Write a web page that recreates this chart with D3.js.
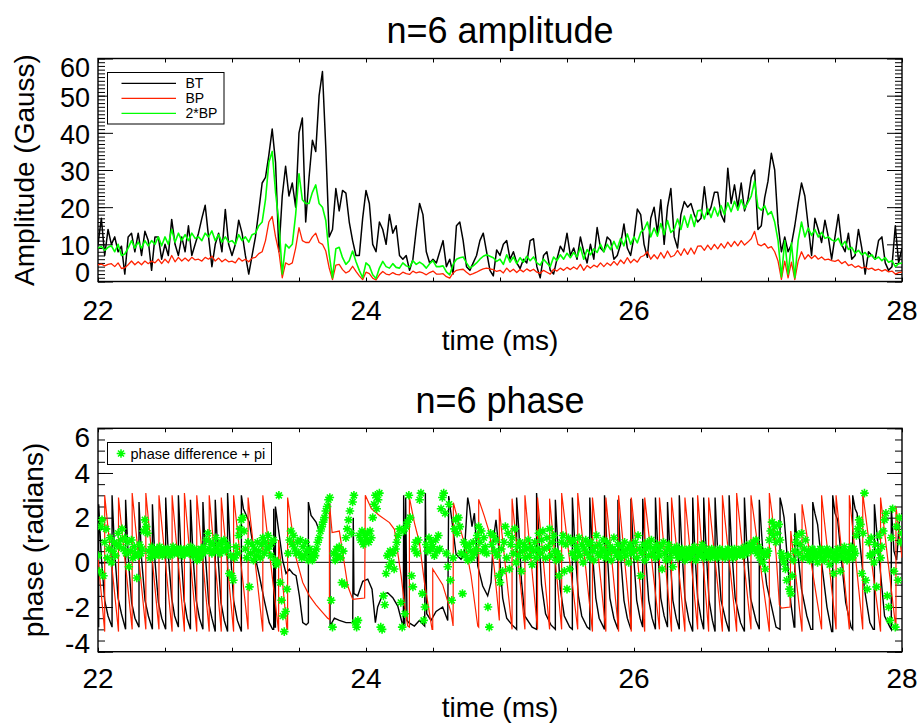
<!DOCTYPE html>
<html>
<head>
<meta charset="utf-8">
<script src="https://cdn.jsdelivr.net/npm/d3@7"></script>
<style>
html,body{margin:0;padding:0;background:#fff;}
svg{display:block;font-family:"Liberation Sans",Arial,Helvetica,sans-serif;}
</style>
</head>
<body>
<svg id="chart" width="921" height="727"></svg>
<script>
// ---------- amplitude traces (sampled every 0.025 ms from 22 ms) ----------
const ampT0 = 22, ampStep = 0.025;
const bt = [
 10,17,7,14,10,12,8,9.5,2,12,
 13,8,13,7,13.5,11,3,12,12,6,
 10,7,16.7,10,7,12,8,15,7,10,
 13,17,20.5,12,4,10,13,8,19.4,10,
 7,10,16.5,13,7,2,7,12,19,26.5,
 28,34,41,32,8,23,31,23,26.5,20,
 40,44,16,28,38,35,50,56.5,36,12,
 14,25,19,24.5,23.8,16,11,7,7,17,
 24.5,21,10,8,16,14,10,18,13,15,
 7,6,7,3,6,14,21,18,8,5,
 6,5,8,11,4,6,2,15,16,11,
 4,3,5,7,11,13,8,3,1.5,8.5,
 7,10,11,6,8,5,3.5,6,5,11,
 11.5,4,1,7,8,3,2,6,9.5,8,
 13,7,9,6,12,8,5,10,6,14.5,
 9,8,12,11,6,7,10,15.5,9,7,
 12,19.5,18,10,6.5,17,20,13,22,10,
 20,25,12,9,18,21.5,20,21,18,16,
 17,25.5,18,20,24,24,18,16,30.5,21,
 26,20,26.5,19,22,28,30,14,15,22.5,
 27,34.5,30,15.5,8,12,8,10,15,21,
 26.5,23,15,7,17,14,10.5,16.5,12,6,
 12,18,10,8,13,6,7,14,9,2,
 8,7,6,11,12,5,3,4,15,5,9
];
const bp = [
 4.5,4.7,4.2,4.6,4.8,4.0,5.0,3.5,3.7,4.5,
 5.5,4.5,5.3,4.5,5.5,4.8,5.5,5.0,6.0,4.8,
 6.0,5.0,7.0,5.3,6.5,5.5,6.3,5.5,6.5,5.8,
 6.0,5.5,6.5,6.0,6.8,5.5,6.3,5.3,6.0,5.3,
 5.5,5.0,6.3,5.5,6.0,5.3,6.3,6.5,7.5,8.0,
 11.0,16.0,17.5,12.0,8.0,1.0,5.0,4.5,5.0,9.0,
 14.5,11.0,10.5,10.5,12.0,13.0,10.5,10.0,8.2,3.7,
 0.5,4.4,4.6,3.2,2.3,2.8,4.1,2.7,1.5,0.5,
 2.5,2.1,0.9,0.4,1.8,2.7,2.0,1.8,2.4,1.9,
 1.8,2.5,2.1,1.9,2.8,2.3,2.6,2.3,1.8,2.4,
 2.8,2.0,2.0,2.1,1.3,0.9,2.3,3.0,3.2,3.3,
 2.5,1.8,2.1,2.5,3.0,3.4,3.6,3.4,3.2,2.7,
 3.0,2.3,3.6,2.6,3.3,2.4,3.2,2.6,3.4,2.8,
 3.3,2.5,2.2,3.0,2.5,2.0,3.3,2.8,3.6,3.0,
 3.8,3.2,3.9,3.3,4.6,3.0,4.3,3.6,4.4,3.9,
 5.0,4.0,5.0,4.3,5.4,4.4,5.8,4.8,6.4,5.0,
 6.0,5.2,6.6,7.0,8.0,6.0,7.2,6.1,7.8,6.3,
 8.2,6.6,7.0,8.4,7.0,8.8,7.3,9.0,7.4,9.5,
 9.6,8.4,9.8,8.6,10.0,8.8,10.2,9.0,10.6,9.4,
 10.8,9.6,11.0,9.8,10.6,11.5,13.5,10.0,9.6,10.2,
 9.0,9.4,8.0,5.5,0.6,5.5,1.0,5.2,0.5,5.5,
 8.0,6.0,7.2,6.2,7.0,6.0,6.6,5.8,6.0,5.6,
 5.4,5.8,4.8,5.4,4.3,4.6,3.8,4.2,3.6,3.9,
 3.3,3.6,3.0,3.3,2.8,3.2,2.6,2.8,2.0,2.4,2.5
];

// ---------- phase traces: [time (ms), phase (rad)] vertices ----------
const btPhase = [
 [22.000,-2.7],[22.005,-2.9],[22.005,2.6],[22.025,0.2],[22.050,-1.7],[22.075,-2.4],
 [22.105,-2.9],[22.105,3.0],[22.125,0.4],[22.150,-1.6],[22.175,-2.3],
 [22.206,-3.0],[22.206,2.8],[22.226,0.2],[22.251,-1.8],[22.276,-2.5],
 [22.306,-2.9],[22.306,2.7],[22.326,0.1],[22.351,-1.7],[22.376,-2.4],
 [22.406,-3.0],[22.406,2.6],[22.426,0.0],[22.451,-1.8],[22.476,-2.5],
 [22.505,-3.0],[22.505,2.9],[22.525,0.3],[22.550,-1.6],[22.572,-2.4],
 [22.600,-2.9],[22.600,3.0],[22.620,0.4],[22.643,-1.7],[22.665,-2.5],
 [22.690,-3.0],[22.690,2.8],[22.710,0.2],[22.733,-1.7],[22.757,-2.5],
 [22.783,-3.0],[22.783,2.7],[22.803,0.2],[22.826,-1.8],[22.850,-2.5],
 [22.875,-3.1],[22.875,2.8],[22.895,0.3],[22.918,-1.8],[22.942,-2.6],
 [22.967,-3.1],[22.967,3.1],[22.987,0.6],[23.012,-1.7],[23.040,-2.6],
 [23.070,-3.1],[23.070,3.0],[23.085,2.4],[23.129,1.8],[23.167,0.4],[23.204,-0.6],[23.241,-1.7],[23.278,-2.7],[23.303,-3.0],
 [23.311,-3.0],[23.311,2.4],[23.318,-2.9],[23.324,-2.9],[23.324,2.5],[23.353,1.2],[23.378,0.1],[23.403,-0.5],[23.428,-0.3],[23.453,-0.5],[23.478,-0.6],[23.503,-1.5],[23.528,-2.7],[23.553,-2.8],
 [23.570,-2.7],[23.570,2.7],[23.590,2.1],[23.627,1.8],[23.652,1.4],[23.690,1.8],[23.714,2.6],[23.729,2.6],[23.732,-2.85],[23.764,-2.5],[23.801,-2.6],[23.851,-2.7],[23.901,-2.7],[23.905,2.0],[23.910,-1.4],[23.938,-1.5],[23.976,-0.85],[24.013,-0.75],[24.045,-1.2],[24.070,-2.7],[24.087,-2.0],[24.125,-1.43],[24.162,-1.36],[24.200,-1.58],[24.237,-1.96],[24.269,-2.7],[24.279,-2.85],
 [24.281,3.0],[24.289,-2.85],[24.296,2.9],[24.306,-2.6],[24.319,-2.7],[24.361,-2.85],[24.398,-2.6],[24.438,-2.85],[24.443,3.1],[24.453,-2.3],[24.485,-2.6],[24.523,-2.2],[24.572,-2.0],[24.610,-2.6],[24.617,2.97],[24.647,1.6],[24.672,0.36],[24.709,0.13],[24.734,0.4],[24.759,2.9],[24.772,2.5],[24.791,1.6],[24.809,2.2],[24.834,-0.16],[24.871,-1.06],[24.908,-1.5],[24.933,-0.9],[24.950,1.0],[24.970,1.9],[24.995,0.4],[25.020,-1.6],[25.050,-2.5],[25.090,-2.8],
 [25.124,-3.0],[25.124,2.9],[25.140,1.5],[25.160,-0.8],[25.185,-2.4],[25.240,-2.9],
 [25.273,-3.0],[25.273,3.1],[25.290,1.2],[25.310,-1.0],[25.340,-2.3],[25.380,-2.8],
 [25.413,-3.0],[25.413,2.8],[25.430,0.9],[25.450,-1.2],[25.480,-2.4],[25.520,-2.9],
 [25.540,-3.0],[25.540,2.9],[25.560,0.6],[25.585,-1.5],[25.610,-2.4],[25.650,-2.9],
 [25.670,-3.0],[25.670,2.9],[25.690,0.4],[25.715,-1.6],[25.740,-2.5],
 [25.780,-3.0],[25.780,3.0],[25.800,0.5],[25.820,-1.6],[25.850,-2.5],
 [25.880,-3.0],[25.880,2.8],[25.900,0.3],[25.925,-1.7],[25.950,-2.5],
 [25.977,-3.0],[25.977,2.85],[25.997,0.3],[26.020,-1.7],[26.045,-2.5],
 [26.065,-2.9],[26.065,2.85],[26.085,0.4],[26.110,-1.7],[26.135,-2.5],
 [26.160,-3.0],[26.160,2.9],[26.180,0.3],[26.200,-1.6],[26.225,-2.4],
 [26.250,-2.9],[26.250,2.7],[26.270,0.2],[26.290,-1.7],[26.315,-2.5],
 [26.338,-3.0],[26.338,3.0],[26.358,0.5],[26.380,-1.6],[26.410,-2.6],
 [26.438,-3.1],[26.438,2.9],[26.455,0.4],[26.475,-1.6],[26.500,-2.5],
 [26.520,-3.0],[26.520,2.9],[26.540,0.4],[26.560,-1.7],[26.585,-2.6],
 [26.605,-3.1],[26.605,2.9],[26.625,0.4],[26.650,-1.7],[26.685,-2.6],
 [26.710,-3.1],[26.710,3.0],[26.730,0.5],[26.755,-1.6],[26.795,-2.7],
 [26.824,-3.1],[26.824,2.9],[26.844,0.5],[26.870,-1.6],[26.910,-2.6],
 [26.935,-3.0],[26.935,2.8],[26.960,0.6],[26.990,-1.0],[27.020,-1.8],[27.060,-2.9],
 [27.090,-3.0],[27.090,2.9],[27.105,2.5],[27.120,2.0],[27.140,0.5],[27.170,-1.8],[27.195,-2.9],
 [27.200,-2.9],[27.200,2.2],[27.225,0.3],[27.250,-1.2],[27.290,-2.4],[27.320,-3.0],
 [27.334,-3.0],[27.334,2.7],[27.350,2.2],[27.370,1.7],[27.400,0.0],[27.440,-2.0],[27.475,-3.1],
 [27.483,-3.1],[27.483,3.0],[27.500,2.2],[27.520,1.9],[27.545,0.3],[27.580,-1.8],[27.620,-2.9],
 [27.632,-3.0],[27.632,3.0],[27.650,2.4],[27.665,2.2],[27.690,0.6],[27.720,-1.2],[27.760,-2.7],[27.785,-3.0],
 [27.794,-3.0],[27.794,2.6],[27.810,1.5],[27.840,-0.5],[27.870,-2.4],[27.910,-2.9],
 [27.920,-3.0],[27.920,2.5],[27.940,0.5],[27.960,0.1],[27.980,1.8],[28.000,2.2]
];
const bpPhase = [
 [22.000,0.2],[22.050,-3.1],[22.050,3.0],[22.153,-3.1],[22.153,2.9],[22.255,-3.0],[22.255,3.1],
 [22.357,-3.0],[22.357,3.1],[22.455,-3.0],[22.455,3.0],[22.553,-3.1],[22.553,3.0],[22.645,-3.1],[22.645,3.1],
 [22.737,-3.1],[22.737,3.0],[22.830,-3.1],[22.830,3.0],[22.920,-3.1],[22.920,2.9],[23.012,-3.1],[23.012,3.0],
 [23.120,-3.0],[23.120,2.9],[23.230,-3.1],[23.230,3.0],[23.348,-3.1],[23.348,1.0],[23.410,-3.0],[23.415,-3.0],[23.415,2.9],
 [23.478,0.2],[23.528,-0.9],[23.578,-1.5],[23.627,-1.9],[23.677,-2.25],[23.714,-2.5],[23.727,-2.55],[23.727,2.67],
 [23.747,1.33],[23.801,1.4],[23.826,0.43],[23.864,-1.06],[23.901,-1.66],[23.990,-1.6],[23.995,3.0],
 [24.040,2.4],[24.100,2.1],[24.175,1.78],[24.212,1.48],[24.237,0.43],[24.262,-0.6],[24.286,-1.8],[24.311,-2.85],
 [24.324,-2.9],[24.324,2.9],[24.361,1.78],[24.398,0.9],[24.436,-0.9],[24.473,-2.25],[24.493,-3.0],[24.498,-3.0],[24.498,-0.3],
 [24.572,-1.0],[24.635,-2.25],[24.650,-2.85],[24.652,2.67],[24.697,1.63],[24.747,0.58],[24.784,-0.6],[24.834,-2.85],
 [24.841,-2.9],[24.841,2.82],[24.883,2.07],[24.921,1.33],[24.958,-0.3],[24.995,-2.6],[24.995,2.4],
 [25.090,-3.0],[25.090,2.85],[25.186,-3.0],[25.186,3.0],[25.280,-3.0],[25.280,2.9],[25.370,-3.0],[25.370,2.85],
 [25.460,-3.0],[25.460,3.1],[25.580,-3.0],[25.580,3.1],[25.690,-3.1],[25.690,2.9],[25.790,-3.1],[25.790,2.9],
 [25.885,-3.1],[25.885,3.0],[25.980,-3.1],[25.980,2.9],[26.080,-3.1],[26.080,2.9],[26.190,-3.0],[26.190,2.9],
 [26.280,-3.1],[26.280,2.9],[26.380,-3.1],[26.380,2.9],[26.475,-3.0],[26.475,3.0],[26.557,-3.1],[26.557,2.9],
 [26.660,-3.1],[26.660,3.0],[26.766,-3.1],[26.766,3.1],[26.873,-3.0],[26.873,3.0],[27.010,-3.1],[27.010,3.1],
 [27.030,2.2],[27.060,0.4],[27.085,-1.9],[27.100,-2.05],[27.165,-2.0],[27.170,1.4],[27.254,-3.1],[27.254,2.6],
 [27.400,-3.0],[27.400,3.0],[27.508,-3.0],[27.508,3.0],[27.607,-3.0],[27.607,3.0],[27.707,-3.0],[27.707,3.1],
 [27.840,-3.1],[27.840,2.9],[27.955,-3.0],[27.955,2.5],[28.000,0.2]
];

// ---------- phase difference + pi, sampled every 0.01 ms from 22 ms ----------
const diffT0 = 22, diffStep = 0.01;
const phaseDiff = [
 0.3,-0.4,1.6,1.9,-0.6,0.9,1.5,0.2,0.6,1.1, 0.0,0.5,0.9,0.3,0.8,1.3,0.7,1.0,1.5,0.6,
 1.1,0.4,0.9,-0.2,0.5,1.0,0.2,0.7,0.4,-0.7, 0.3,0.8,0.4,0.6,1.4,1.9,1.6,1.3,0.5,0.2,
 0.7,0.4,0.5,0.3,0.6,0.4,0.7,0.5,0.3,0.6,
 0.5,0.4,0.6,0.5,0.3,0.5,0.7,0.4,0.5,0.6, 0.4,0.5,0.6,0.3,0.5,0.4,0.6,0.5,0.4,0.7,
 0.5,0.3,0.6,0.4,0.1,0.5,0.2,0.6,0.4,0.7, 0.5,1.0,1.3,0.6,0.9,0.4,0.8,0.5,1.1,0.6,
 0.8,0.4,0.9,0.6,1.0,0.5,0.8,0.7,-0.5,0.3,
 -0.6,-0.8,0.2,0.7,0.4,1.2,1.5,1.9,2.0,1.4, 0.6,0.2,0.9,-1.1,0.4,0.8,0.1,0.6,0.3,0.9,
 0.5,0.2,0.8,1.1,0.4,0.9,0.6,1.2,0.7,0.3, 0.9,1.0,0.1,-0.1,0.0,3.0,-0.9,-1.7,-2.4,-3.1,
 -2.2,-1.2,0.4,1.0,1.4,0.8,1.2,0.6,0.4,0.9,
 0.4,1.0,0.2,0.7,0.3,0.9,0.5,0.1,0.6,0.3, 0.1,0.4,0.3,0.6,0.9,1.1,1.4,1.6,1.8,2.0,
 2.3,2.5,2.8,2.9,-1.7,-2.9,0.4,0.1,0.6,0.3, 0.7,0.2,-0.9,0.5,-1.0,1.1,1.5,1.9,2.3,1.3,
 2.7,3.0,-2.7,-2.9,-2.6,1.2,1.0,1.4,0.8,1.2,
 1.0,1.3,0.9,1.4,1.1,2.0,2.6,3.0,2.4,2.8, 3.1,-2.9,-3.0,-1.5,-1.9,-0.5,0.3,-0.2,0.5,0.0,
 0.4,-0.3,0.6,0.9,1.2,1.5,-1.8,-2.9,1.4,-2.3, 1.6,1.8,3.0,2.0,-0.6,-1.1,0.6,0.9,0.4,1.0,
 2.8,3.1,-1.4,-2.6,-2.0,0.8,0.5,1.1,0.6,0.9,
 0.7,0.3,1.0,0.5,1.2,0.6,2.4,2.9,3.1,2.2, 0.4,-0.2,2.6,-0.8,-1.7,0.2,1.5,1.9,1.3,2.0,
 1.6,0.4,-1.4,0.9,0.3,0.7,0.1,0.8,0.5,0.2, 0.9,0.4,0.6,1.2,1.6,0.9,1.4,0.5,1.1,0.7,
 0.4,-2.0,-2.9,1.3,0.8,1.2,0.5,1.0,0.3,-0.6,
 -0.9,0.6,-0.4,0.9,1.6,0.2,1.3,-0.3,0.8,1.1, 0.4,1.5,0.0,0.7,0.3,0.9,-0.4,0.5,0.8,0.2,
 0.6,1.0,0.3,0.7,-0.1,0.5,0.9,0.2,0.6,1.3, 0.4,1.0,1.4,0.6,0.2,1.1,0.7,1.5,0.3,0.9,
 1.2,0.5,0.1,0.4,-0.6,0.2,0.9,1.2,-0.4,0.8,
 -1.2,1.1,-0.3,0.9,0.4,1.0,0.2,0.7,0.5,1.1, 0.3,0.8,0.0,0.6,1.0,0.4,0.8,0.2,0.9,0.5,
 0.1,0.7,1.2,0.4,0.8,0.3,0.6,1.0,0.5,0.2, 0.9,0.4,0.7,0.1,0.6,1.1,0.5,0.3,0.8,0.4,
 0.2,0.7,0.5,0.9,0.3,0.6,0.0,0.8,0.4,0.6,
 0.5,0.9,0.2,1.2,0.6,-0.6,0.4,0.8,0.1,0.6, 0.9,0.3,0.7,1.0,0.4,0.6,0.2,0.8,0.5,0.3,
 0.7,-0.3,0.9,0.4,0.1,0.6,0.8,0.2,0.5,-0.2, 0.6,0.4,0.7,0.2,0.5,0.3,0.6,0.4,0.1,0.5,
 0.3,0.6,0.2,0.5,0.4,0.7,0.1,0.5,0.3,0.6,
 0.4,0.8,0.2,0.6,0.4,0.3,0.5,0.2,0.6,0.4, 0.3,0.5,0.2,0.4,0.6,0.3,0.5,0.4,0.2,0.5,
 0.6,0.3,0.4,0.5,0.2,0.6,0.4,0.3,0.5,0.4, 0.6,0.3,0.5,0.7,0.4,0.6,0.8,0.5,0.7,0.9,
 0.6,1.0,0.4,0.7,0.2,0.5,0.0,0.4,-0.3,0.3,
 0.5,1.0,1.4,1.8,1.2,1.6,0.9,1.3,1.7,1.0, 0.4,0.2,0.0,-0.3,-0.8,0.3,-1.2,-1.4,-0.6,0.1,
 0.5,0.9,1.2,0.4,0.8,1.3,0.2,0.6,1.0,0.3, 0.5,0.1,0.4,0.6,0.2,0.5,0.3,0.0,0.4,0.6,
 0.2,0.5,0.1,0.4,0.6,0.3,-0.1,0.5,0.2,-0.5,
 0.4,0.1,0.6,0.3,-0.4,0.5,0.2,0.7,0.4,0.1, 0.5,0.3,0.7,0.2,0.6,0.4,1.2,1.5,1.9,1.7,
 -0.5,1.3,3.1,-0.8,-1.2,0.9,0.3,1.1,0.4,0.0, 0.8,-1.1,0.5,1.2,0.2,0.7,1.4,1.9,2.2,-1.5,
 -2.0,-2.6,1.1,2.4,-0.4,-2.9,1.6,-0.8,2.0,0.9, 1.3
];

// ---------- axes ----------
const timeTicks = [22, 24, 26, 28];
const timeMinor = d3.range(22, 28.001, 0.5);
const ampTicks = [0, 10, 20, 30, 40, 50, 60];
const ampMinor = d3.range(0, 60.001, 1);
const phaseTicks = [-4, -2, 0, 2, 4, 6];
const phaseMinor = d3.range(-4, 6.001, 0.5);

const RED = "#ff2200", GREEN = "#00ff00";
const svg = d3.select("#chart");
const L = 98, R = 902;
const x = d3.scaleLinear().domain([22, 28]).range([L, R]);
const yA = d3.scaleLinear().domain([0, 60]).range([281.5, 58.5]);
const yP = d3.scaleLinear().domain([-4, 6]).range([651.7, 428.3]);

function frame(y, yMajor, yMinor, cfg) {
  const [bottom, top] = y.range();
  const g = svg.append("g");
  // ticks along time axis (top and bottom, inward)
  g.append("g").attr("transform", `translate(0,${bottom})`)
    .call(d3.axisBottom(x).tickValues(timeMinor).tickSize(-4).tickFormat(""))
    .call(a => a.select(".domain").remove());
  g.append("g").attr("transform", `translate(0,${top})`)
    .call(d3.axisTop(x).tickValues(timeMinor).tickSize(-4).tickFormat(""))
    .call(a => a.select(".domain").remove());
  // ticks along value axis (left and right, inward)
  [[d3.axisLeft, L], [d3.axisRight, R]].forEach(([ax, xp]) => {
    g.append("g").attr("transform", `translate(${xp},0)`)
      .call(ax(y).tickValues(yMinor).tickSize(-7).tickFormat(""))
      .call(a => a.select(".domain").remove());
    g.append("g").attr("transform", `translate(${xp},0)`)
      .call(ax(y).tickValues(yMajor).tickSize(-15).tickFormat(""))
      .call(a => a.select(".domain").remove());
  });
  g.selectAll("line").attr("stroke", "#000").attr("stroke-width", 1);
  // frame
  g.append("rect").attr("x", L).attr("y", top).attr("width", R - L).attr("height", bottom - top)
    .attr("fill", "none").attr("stroke", "#000").attr("stroke-width", 1.4);
  // value labels (end labels pulled inside the frame)
  g.selectAll("text.vl").data(yMajor).join("text")
    .attr("x", 90).attr("text-anchor", "end").attr("font-size", cfg.valueFont)
    .attr("y", d => Math.min(Math.max(y(d) + cfg.labelShift, top + 9), bottom - 8.5))
    .attr("dy", "0.35em").text(d => d);
  // time labels
  g.selectAll("text.tl").data(timeTicks).join("text")
    .attr("x", d => x(d)).attr("y", cfg.timeLabelY).attr("text-anchor", "middle")
    .attr("font-size", 28).text(d => d);
  g.append("text").attr("x", 500).attr("y", cfg.timeTitleY).attr("text-anchor", "middle")
    .attr("font-size", 28).text("time (ms)");
  g.append("text").attr("x", 500).attr("y", cfg.titleY).attr("text-anchor", "middle")
    .attr("font-size", 36).text(cfg.title);
  g.append("text").attr("transform", `translate(${cfg.yTitleX},${(top + bottom) / 2}) rotate(-90)`)
    .attr("text-anchor", "middle").attr("font-size", 28).text(cfg.yTitle);
  // clip for data
  const id = "clip" + Math.round(top);
  svg.append("clipPath").attr("id", id).append("rect")
    .attr("x", L).attr("y", top).attr("width", R - L).attr("height", bottom - top);
  return id;
}

// ---------- amplitude panel ----------
const clipA = frame(yA, ampTicks, ampMinor, {
  labelShift: 1.5, valueFont: 27, timeLabelY: 319.5, timeTitleY: 350, titleY: 43,
  title: "n=6 amplitude", yTitle: "Amplitude (Gauss)", yTitleX: 33.5
});
const lineA = d3.line().x(d => x(d[0])).y(d => yA(d[1]));
const ampSeries = [
  { data: bt.map((v, i) => [ampT0 + i * ampStep, v]), color: "#000", w: 1.5 },
  { data: bp.map((v, i) => [ampT0 + i * ampStep, v]), color: RED, w: 1.3 },
  { data: bp.map((v, i) => [ampT0 + i * ampStep, 2 * v]), color: GREEN, w: 1.6 }
];
const gA = svg.append("g").attr("clip-path", `url(#${clipA})`);
ampSeries.forEach(s => gA.append("path").datum(s.data).attr("d", lineA)
  .attr("fill", "none").attr("stroke", s.color).attr("stroke-width", s.w)
  .attr("stroke-linejoin", "round"));

// legend
const legA = svg.append("g");
legA.append("rect").attr("x", 107.5).attr("y", 72.5).attr("width", 116.5).attr("height", 51.5)
  .attr("fill", "#fff").attr("stroke", "#000").attr("stroke-width", 1);
[["BT", "#000", 83.3], ["BP", RED, 98.3], ["2*BP", GREEN, 113.3]].forEach(([name, c, yy]) => {
  legA.append("line").attr("x1", 121.5).attr("x2", 176).attr("y1", yy).attr("y2", yy)
    .attr("stroke", c).attr("stroke-width", 1.3);
  legA.append("text").attr("x", 185.5).attr("y", yy).attr("dy", "0.35em")
    .attr("font-size", 14).text(name);
});

// ---------- phase panel ----------
const clipP = frame(yP, phaseTicks, phaseMinor, {
  labelShift: 0, valueFont: 28, timeLabelY: 688, timeTitleY: 717, titleY: 413,
  title: "n=6 phase", yTitle: "phase (radians)", yTitleX: 42.5
});
const lineP = d3.line().x(d => x(d[0])).y(d => yP(d[1]));
const gP = svg.append("g").attr("clip-path", `url(#${clipP})`);
gP.append("line").attr("x1", x(22)).attr("x2", x(28)).attr("y1", yP(0)).attr("y2", yP(0))
  .attr("stroke", "#000").attr("stroke-width", 1);
gP.append("path").datum(btPhase).attr("d", lineP).attr("fill", "none")
  .attr("stroke", "#000").attr("stroke-width", 1.4);
gP.append("path").datum(bpPhase).attr("d", lineP).attr("fill", "none")
  .attr("stroke", RED).attr("stroke-width", 1.2);

// asterisk marker
const star = "M-4.3,0H4.3M0,-4.3V4.3M-3,-3L3,3M-3,3L3,-3";
gP.selectAll("path.star").data(phaseDiff.map((v, i) => [diffT0 + i * diffStep, v])).join("path")
  .attr("class", "star").attr("d", star)
  .attr("transform", d => `translate(${x(d[0])},${yP(d[1])})`)
  .attr("stroke", GREEN).attr("stroke-width", 1.6).attr("fill", "none");

const legP = svg.append("g");
legP.append("rect").attr("x", 107.5).attr("y", 442.5).attr("width", 164).attr("height", 22)
  .attr("fill", "#fff").attr("stroke", "#000").attr("stroke-width", 1);
legP.append("path").attr("d", star).attr("transform", "translate(121,453.5)")
  .attr("stroke", GREEN).attr("stroke-width", 1.5).attr("fill", "none");
legP.append("text").attr("x", 130.5).attr("y", 453.5).attr("dy", "0.35em")
  .attr("font-size", 14.5).text("phase difference + pi");
</script>
</body>
</html>
